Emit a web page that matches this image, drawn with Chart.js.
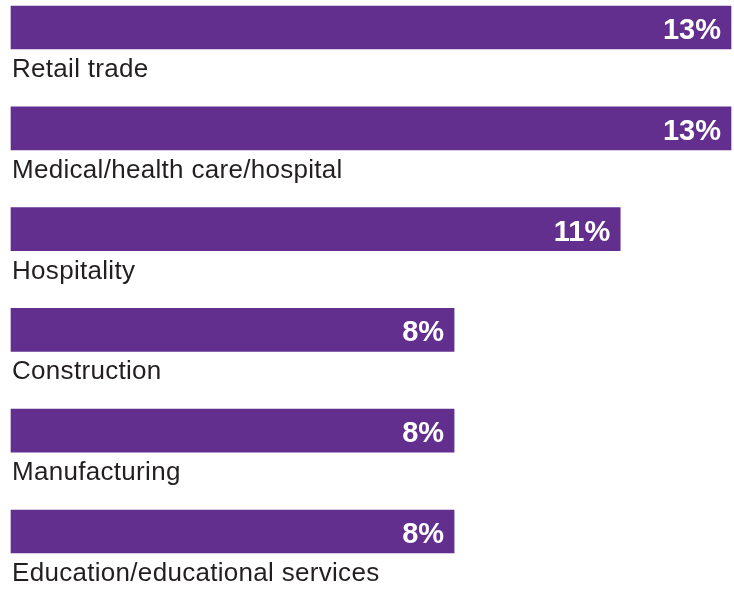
<!DOCTYPE html>
<html>
<head>
<meta charset="utf-8">
<script src="https://cdn.jsdelivr.net/npm/chart.js@4/dist/chart.umd.min.js"></script>
<style>
  html, body { margin: 0; padding: 0; background: #ffffff; }
  #wrap { width: 734px; height: 589px; position: relative; }
</style>
</head>
<body>
<div id="wrap"><canvas id="chart" width="734" height="589"></canvas></div>
<script>
// Industries and share of respondents (%)
const industries = [
  'Retail trade',
  'Medical/health care/hospital',
  'Hospitality',
  'Construction',
  'Manufacturing',
  'Education/educational services'
];
const shares = [13, 13, 11, 8, 8, 8];
const valueLabels = ['13%', '13%', '11%', '8%', '8%', '8%'];

const BAR_COLOR = '#622f8f';
const TEXT_COLOR = '#231f20';
const FONT_FAMILY = 'Arial, "Liberation Sans", Helvetica, sans-serif';

// Writes the value inside each bar and the category name underneath it
const barTextPlugin = {
  id: 'barText',
  afterDatasetsDraw(chart) {
    const ctx = chart.ctx;
    const meta = chart.getDatasetMeta(0);
    const xScale = chart.scales.x;
    const left = xScale.getPixelForValue(0);
    ctx.save();
    meta.data.forEach((bar, i) => {
      const half = bar.height / 2;
      // value, right-aligned inside the bar
      ctx.font = 'bold 29px ' + FONT_FAMILY;
      ctx.letterSpacing = '0px';
      ctx.fillStyle = '#ffffff';
      ctx.textAlign = 'right';
      ctx.textBaseline = 'alphabetic';
      ctx.fillText(valueLabels[i], bar.x - 10, bar.y + 11.5);
      // category name below the bar
      ctx.font = '26px ' + FONT_FAMILY;
      ctx.letterSpacing = '0.3px';
      ctx.fillStyle = TEXT_COLOR;
      ctx.textAlign = 'left';
      ctx.fillText(industries[i], left + 1, bar.y + half + 28);
    });
    ctx.restore();
  }
};

new Chart(document.getElementById('chart'), {
  type: 'bar',
  data: {
    labels: industries,
    datasets: [{
      data: shares,
      backgroundColor: BAR_COLOR,
      borderWidth: 0,
      barThickness: 43,
      clip: false
    }]
  },
  options: {
    indexAxis: 'y',
    responsive: false,
    animation: false,
    devicePixelRatio: 1,
    layout: { padding: { top: 27.5, bottom: 57.5, left: 11, right: 3 } },
    plugins: {
      legend: { display: false },
      tooltip: { enabled: false }
    },
    scales: {
      x: { display: false, min: 0, max: 13 },
      y: { display: false, offset: false, grid: { display: false } }
    }
  },
  plugins: [barTextPlugin]
});
</script>
</body>
</html>
